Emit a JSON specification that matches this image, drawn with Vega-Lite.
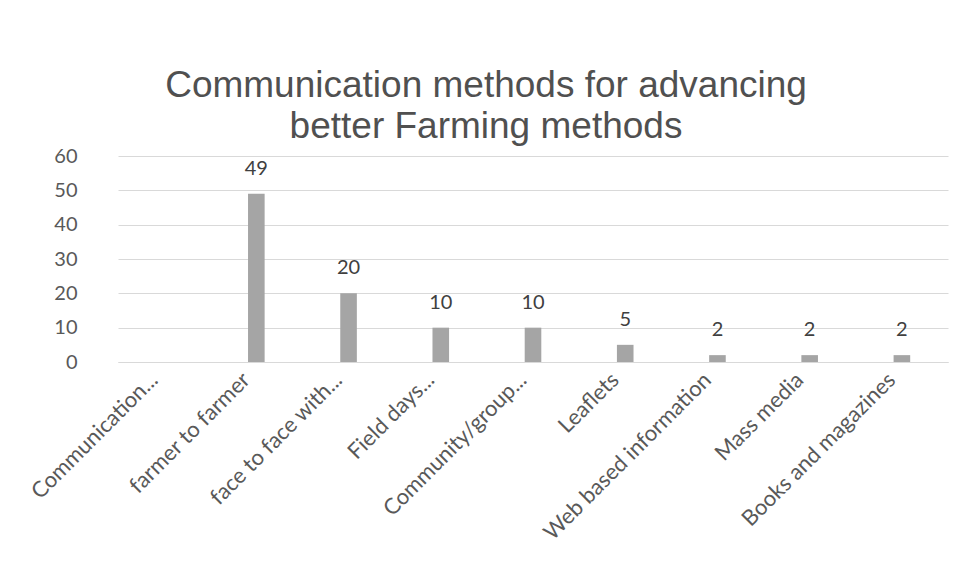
{
  "$schema": "https://vega.github.io/schema/vega-lite/v6.json",
  "width": 830,
  "height": 206,
  "autosize": {"type": "none"},
  "padding": {"left": 118, "top": 156, "right": 7, "bottom": 215},
  "background": "white",
  "title": {
    "text": ["Communication methods for advancing", "better Farming methods"],
    "font": "Liberation Sans",
    "fontSize": 37,
    "fontWeight": "normal",
    "color": "#505050",
    "lineHeight": 41,
    "anchor": "middle",
    "frame": "group",
    "dx": -47,
    "offset": 0
  },
  "data": {
    "values": [
      {"method": "Communication...", "value": null},
      {"method": "farmer to farmer", "value": 49},
      {"method": "face to face with...", "value": 20},
      {"method": "Field days...", "value": 10},
      {"method": "Community/group...", "value": 10},
      {"method": "Leaflets", "value": 5},
      {"method": "Web based information", "value": 2},
      {"method": "Mass media", "value": 2},
      {"method": "Books and magazines", "value": 2}
    ]
  },
  "encoding": {
    "x": {
      "field": "method",
      "type": "nominal",
      "sort": null,
      "title": null,
      "scale": {
        "domain": ["Communication...", "farmer to farmer", "face to face with...", "Field days...", "Community/group...", "Leaflets", "Web based information", "Mass media", "Books and magazines"],
        "paddingInner": 0.82,
        "paddingOuter": 0.41
      },
      "axis": {
        "labelAngle": -45,
        "labelAlign": "right",
        "labelBaseline": "middle",
        "labelFont": "Lato",
        "labelFontSize": 22,
        "labelColor": "#595959",
        "labelPadding": 14,
        "labelOffset": -10,
        "domain": true,
        "domainColor": "#d9d9d9",
        "ticks": false,
        "grid": false,
        "labelOverlap": false,
        "labelLimit": 400
      }
    },
    "y": {
      "field": "value",
      "type": "quantitative",
      "title": null,
      "scale": {"domain": [0, 60], "nice": false},
      "axis": {
        "values": [0, 10, 20, 30, 40, 50, 60],
        "labelFont": "Lato",
        "labelFontSize": 20,
        "labelColor": "#595959",
        "labelPadding": 41,
        "domain": false,
        "ticks": false,
        "grid": true,
        "gridColor": "#d9d9d9",
        "gridWidth": 1
      }
    }
  },
  "layer": [
    {
      "mark": {"type": "bar", "color": "#a5a5a5"}
    },
    {
      "mark": {
        "type": "text",
        "baseline": "alphabetic",
        "dy": -19,
        "font": "Lato",
        "fontSize": 20,
        "color": "#404040"
      },
      "encoding": {"text": {"field": "value", "type": "quantitative"}}
    }
  ],
  "config": {"view": {"stroke": null}}
}
